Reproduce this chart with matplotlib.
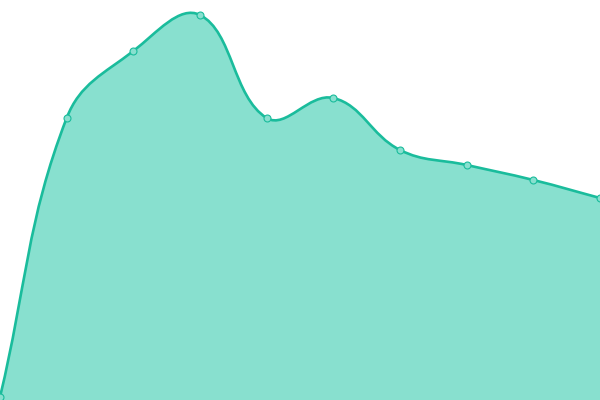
import numpy as np
import matplotlib
matplotlib.use("Agg")
import matplotlib.pyplot as plt
from matplotlib.path import Path
from matplotlib.patches import PathPatch

# values (pixels above the bottom edge)
labels = list(range(10))
values = [3, 282, 349, 385, 282, 302, 250, 235, 220, 202]

line_color = "#1ABC9C"
fill_color = "#88E0CF"
tension = 0.4

W, H = 600, 400
fig = plt.figure(figsize=(6, 4), dpi=100)
ax = fig.add_axes([0, 0, 1, 1])
ax.set_xlim(0, len(labels) - 1)
ax.set_ylim(0, H)
ax.axis("off")

# spline in pixel space, Chart.js style control points
sx = W / (len(labels) - 1)
px = np.array(labels, dtype=float) * sx
py = np.array(values, dtype=float)
n = len(px)
cp_prev = []
cp_next = []
for i in range(n):
    p0 = (px[max(i - 1, 0)], py[max(i - 1, 0)])
    p1 = (px[i], py[i])
    p2 = (px[min(i + 1, n - 1)], py[min(i + 1, n - 1)])
    d01 = np.hypot(p1[0] - p0[0], p1[1] - p0[1])
    d12 = np.hypot(p2[0] - p1[0], p2[1] - p1[1])
    tot = d01 + d12
    s01 = d01 / tot if tot else 0
    s12 = d12 / tot if tot else 0
    fa, fb = tension * s01, tension * s12
    cp_prev.append((min(max(p1[0] - fa * (p2[0] - p0[0]), 0), W),
                    min(max(p1[1] - fa * (p2[1] - p0[1]), 0), H)))
    cp_next.append((min(max(p1[0] + fb * (p2[0] - p0[0]), 0), W),
                    min(max(p1[1] + fb * (p2[1] - p0[1]), 0), H)))

verts = [(px[0] / sx, py[0])]
codes = [Path.MOVETO]
for i in range(1, n):
    a = cp_next[i - 1]
    b = cp_prev[i]
    verts += [(a[0] / sx, a[1]), (b[0] / sx, b[1]), (px[i] / sx, py[i])]
    codes += [Path.CURVE4] * 3

fill_verts = verts + [(labels[-1], 0), (labels[0], 0), verts[0]]
fill_codes = codes + [Path.LINETO, Path.LINETO, Path.CLOSEPOLY]
ax.add_patch(PathPatch(Path(fill_verts, fill_codes), facecolor=fill_color,
                       edgecolor="none", zorder=1))
ax.add_patch(PathPatch(Path(verts, codes), facecolor="none",
                       edgecolor=line_color, lw=1.9, zorder=2,
                       capstyle="round", joinstyle="round"))

ax.plot(labels, values, linestyle="none", marker="o", markersize=5,
        markerfacecolor=fill_color, markeredgecolor=line_color,
        markeredgewidth=0.8, zorder=3, clip_on=False)

fig.savefig("out.png", dpi=100)
